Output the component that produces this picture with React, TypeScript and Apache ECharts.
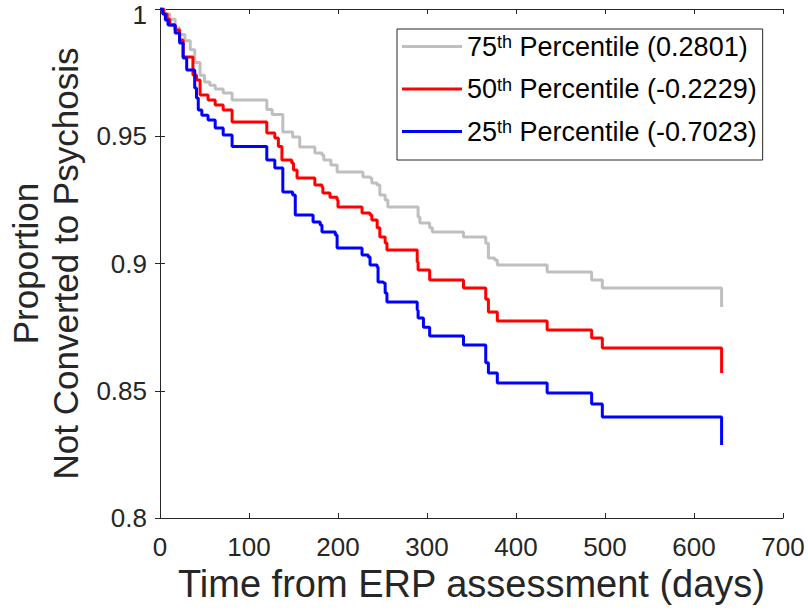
import React, { useEffect, useRef } from 'react';
import * as echarts from 'echarts';

const FONT = "'Liberation Sans', Arial, Helvetica, sans-serif";
const AXIS_COLOR = '#262626';

// Axis ticks
const xTickValues = [0, 100, 200, 300, 400, 500, 600, 700];
const yTickValues = [0.8, 0.85, 0.9, 0.95, 1];

// Series names (legend)
const seriesNames = [
  '75th Percentile (0.2801)',
  '50th Percentile (-0.2229)',
  '25th Percentile (-0.7023)',
];
const seriesColors = ['#BFBFBF', '#FF0000', '#0000FF'];

// 75th percentile (gray)
const grayDays = [0, 5, 11, 17, 22, 28, 34, 39, 45, 50, 56, 62, 71, 81, 120, 126, 138, 149, 157, 174, 182, 184, 192, 199, 228, 236, 238, 244, 247, 253, 256, 290, 292, 303, 306, 341, 366, 369, 376, 379, 435, 485, 497, 631];
const grayVals = [1, 0.998, 0.996, 0.9925, 0.99, 0.9875, 0.984, 0.979, 0.974, 0.9713, 0.97, 0.9686, 0.967, 0.9642, 0.9605, 0.9585, 0.9517, 0.9497, 0.9458, 0.9434, 0.9426, 0.9407, 0.9387, 0.936, 0.934, 0.9336, 0.9316, 0.9308, 0.9269, 0.925, 0.9222, 0.9183, 0.9159, 0.914, 0.9124, 0.9104, 0.908, 0.9022, 0.9014, 0.8994, 0.8967, 0.8935, 0.8904, 0.8829];

// 50th percentile (red)
const redDays = [0, 4, 8, 11, 17, 22, 26, 37, 41, 45, 54, 62, 71, 81, 120, 129, 133, 137, 148, 150, 154, 174, 182, 183, 191, 199, 200, 227, 236, 238, 244, 247, 253, 255, 289, 290, 303, 341, 366, 369, 379, 435, 485, 497, 631];
const redVals = [1, 0.998, 0.996, 0.9937, 0.9917, 0.9878, 0.9811, 0.9741, 0.9721, 0.9662, 0.9642, 0.9623, 0.9603, 0.9556, 0.9513, 0.9493, 0.946, 0.9407, 0.9395, 0.9367, 0.9336, 0.9308, 0.9301, 0.9277, 0.926, 0.925, 0.9222, 0.9198, 0.9191, 0.9171, 0.914, 0.9104, 0.9081, 0.9053, 0.9006, 0.8974, 0.8935, 0.8904, 0.886, 0.8809, 0.8774, 0.8739, 0.8707, 0.8668, 0.857];

// 25th percentile (blue)
const blueDays = [0, 3, 6, 9, 17, 22, 26, 30, 39, 41, 43, 47, 54, 62, 71, 81, 120, 129, 138, 149, 152, 172, 180, 182, 197, 199, 227, 234, 236, 244, 245, 251, 253, 255, 289, 290, 296, 303, 341, 366, 369, 379, 435, 485, 497, 631];
const blueVals = [1, 0.998, 0.9957, 0.9937, 0.9906, 0.9866, 0.9807, 0.976, 0.969, 0.965, 0.9603, 0.9583, 0.9564, 0.9532, 0.9505, 0.946, 0.9407, 0.9375, 0.9281, 0.9269, 0.9191, 0.9163, 0.9151, 0.9124, 0.9112, 0.9061, 0.9033, 0.9026, 0.8994, 0.8986, 0.8927, 0.8923, 0.8884, 0.8849, 0.8817, 0.8786, 0.875, 0.8715, 0.868, 0.861, 0.857, 0.853, 0.8491, 0.8448, 0.8397, 0.8287];

const toPairs = (d: number[], v: number[]) => d.map((x, i) => [x, v[i]]);
const seriesData = [toPairs(grayDays, grayVals), toPairs(redDays, redVals), toPairs(blueDays, blueVals)];

const xMin = xTickValues[0];
const xMax = xTickValues[xTickValues.length - 1];
const xInterval = xTickValues[1] - xTickValues[0];
const yMin = yTickValues[0];
const yMax = yTickValues[yTickValues.length - 1];
const yInterval = 0.05;

const tickStyle = { inside: true, length: 5, lineStyle: { color: AXIS_COLOR, width: 1 } };
const lineStyleAxis = { show: true, lineStyle: { color: AXIS_COLOR, width: 1 } };

function buildOption() {
  return {
    animation: false,
    backgroundColor: '#ffffff',
    grid: {
      left: 160,
      right: 25,
      top: 9,
      bottom: 98,
      containLabel: false,
      outerBoundsMode: 'none',
    },
    legend: {
      orient: 'vertical',
      left: 397,
      top: 29,
      padding: [4, 6, 3, 5],
      itemWidth: 60,
      itemHeight: 3,
      itemGap: 3.5,
      icon: 'rect',
      selectedMode: false,
      backgroundColor: '#ffffff',
      borderColor: AXIS_COLOR,
      borderWidth: 1,
      borderRadius: 0,
      data: seriesNames.map((n, i) => ({ name: n, icon: 'rect', itemStyle: { color: seriesColors[i] } })),
      formatter: (name: string) => {
        const m = name.match(/^(\d+)th (.*)$/);
        if (!m) return name;
        return `{n|${m[1]}}{sup|th}{n| ${m[2]}}`;
      },
      textStyle: {
        fontFamily: FONT,
        color: '#000000',
        fontSize: 27,
        rich: {
          n: { fontFamily: FONT, fontSize: 27, lineHeight: 27, color: '#000000', verticalAlign: 'bottom' },
          sup: { fontFamily: FONT, fontSize: 18, lineHeight: 17, color: '#000000', padding: [0, 0, 21, 0], verticalAlign: 'top' },
        },
      },
    },
    xAxis: [
      {
        type: 'value',
        min: xMin,
        max: xMax,
        interval: xInterval,
        position: 'bottom',
        name: 'Time from ERP assessment (days)',
        nameLocation: 'middle',
        nameGap: 47,
        nameTextStyle: { fontFamily: FONT, fontSize: 38, lineHeight: 38, color: AXIS_COLOR },
        axisLine: lineStyleAxis,
        axisTick: tickStyle,
        axisLabel: { fontFamily: FONT, fontSize: 26, color: AXIS_COLOR, margin: 16 },
        splitLine: { show: false },
      },
      {
        type: 'value',
        min: xMin,
        max: xMax,
        interval: xInterval,
        position: 'top',
        axisLine: lineStyleAxis,
        axisTick: tickStyle,
        axisLabel: { show: false },
        splitLine: { show: false },
      },
    ],
    yAxis: [
      {
        type: 'value',
        min: yMin,
        max: yMax,
        interval: yInterval,
        position: 'left',
        name: 'Proportion\nNot Converted to Psychosis',
        nameLocation: 'middle',
        nameRotate: 90,
        nameGap: 75,
        nameTextStyle: { fontFamily: FONT, fontSize: 35, lineHeight: 40, color: AXIS_COLOR, align: 'center' },
        axisLine: lineStyleAxis,
        axisTick: tickStyle,
        axisLabel: {
          fontFamily: FONT,
          fontSize: 26,
          color: AXIS_COLOR,
          margin: 13,
          formatter: (v: number) => (Math.abs(v - yMax) < 1e-9 ? `{top|${String(Number(v.toFixed(2)))}}` : String(Number(v.toFixed(2)))),
          rich: {
            top: { fontFamily: FONT, fontSize: 26, color: AXIS_COLOR, lineHeight: 18, padding: [12, 0, 0, 0] },
          },
        },
        splitLine: { show: false },
      },
      {
        type: 'value',
        min: yMin,
        max: yMax,
        interval: yInterval,
        position: 'right',
        axisLine: lineStyleAxis,
        axisTick: tickStyle,
        axisLabel: { show: false },
        splitLine: { show: false },
      },
    ],
    series: seriesNames.map((name, i) => ({
      type: 'line',
      name,
      xAxisIndex: 0,
      yAxisIndex: 0,
      data: seriesData[i],
      step: 'end',
      symbol: 'none',
      showSymbol: false,
      color: seriesColors[i],
      itemStyle: { color: seriesColors[i] },
      lineStyle: { color: seriesColors[i], width: 3 },
      z: 2 + i,
    })),
  };
}

export default function App() {
  const ref = useRef<HTMLDivElement>(null);
  useEffect(() => {
    if (!ref.current) return;
    const chart = echarts.init(ref.current, null, { renderer: 'svg' });
    chart.setOption(buildOption() as any);
    return () => {
      chart.dispose();
    };
  }, []);
  return (
    <div
      ref={ref}
      style={{ position: 'fixed', left: 0, top: 0, width: 808, height: 616, background: '#ffffff' }}
    />
  );
}
